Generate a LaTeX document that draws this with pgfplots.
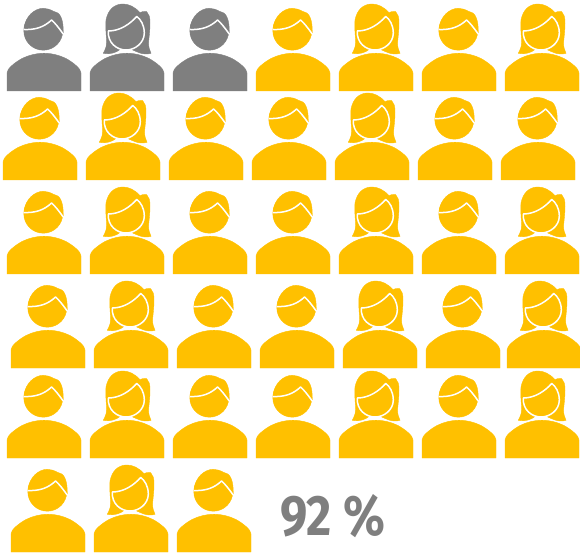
\documentclass[border=0pt]{standalone}
\usepackage{pgfplots}
\pgfplotsset{compat=1.18}
\usepackage{fontspec}
\setmainfont{Fira Sans}
\definecolor{amber}{HTML}{FFC000}
\definecolor{slate}{HTML}{7F7F7F}
\newcommand\bodypath{(-37,0) -- (-37,18) .. controls (-37,22) and (-30,28) .. (-22,32.5) .. controls (-15,36) and (-7,37.8) .. (0,37.8) .. controls (7,37.8) and (15,36) .. (22,32.5) .. controls (30,28) and (37,22) .. (37,18) -- (37,0) -- cycle}
\newcommand\declmale[2]{%
\pgfdeclareplotmark{#1}{%
 \begin{scope}[x=1pt,y=1pt]
 \fill[#2] \bodypath;
 \fill[#2] (-0.7,60.3) circle[radius=19.5];
 \fill[#2] (-20,62) .. controls (-19,75) and (-9,82.7) .. (-0.7,82.7) .. controls (3,82.7) and (6,81.5) .. (10,79.5) .. controls (16,79) and (19.5,72) .. (19.3,58) -- cycle;
 \draw[white,line width=1.5pt,line join=round] (-20.5,61.5) .. controls (-8,61) and (0,64) .. (7.6,71) .. controls (11,68) and (15,63) .. (19.2,57);
 \end{scope}}}
\newcommand\declfemale[2]{%
\pgfdeclareplotmark{#1}{%
 \begin{scope}[x=1pt,y=1pt]
 \fill[#2] \bodypath;
 \fill[#2] (-23.7,37.7) .. controls (-21,43) and (-20,46) .. (-20.3,50) .. controls (-21,58) and (-21.5,64) .. (-21,71) .. controls (-19,81) and (-13,87) .. (-4,87) .. controls (2,87) and (8,84) .. (13,78.3) .. controls (15,79.5) and (17,80) .. (19.7,79.3) .. controls (22,77) and (23,74) .. (23,68) .. controls (23,60) and (22,54) .. (21.5,48) .. controls (21.5,44) and (22.5,41) .. (24,37.7) .. controls (20,36.5) and (16,37) .. (13,38) .. controls (10,39) and (7,40.5) .. (4.7,41.5) -- (-7,41.5) .. controls (-9,40) and (-11.5,38.5) .. (-14,38) .. controls (-17,37) and (-20,37) .. (-23.7,37.7) -- cycle;
 \draw[white,line width=1.5pt,line join=round] (-18.7,60) .. controls (-7,60) and (3,67) .. (9.7,74.5) .. controls (13.5,72) and (17.3,66) .. (17.3,58) .. controls (17.3,48) and (8,41) .. (-1,41) .. controls (-10,41) and (-19.5,48) .. (-18.7,60) -- cycle;
 \end{scope}}}
\declmale{mgray}{slate}
\declmale{mamber}{amber}
\declfemale{fgray}{slate}
\declfemale{famber}{amber}
\begin{document}
\begin{tikzpicture}
\path[use as bounding box] (0,0) rectangle (580pt,552pt);
\begin{axis}[
  at={(0,0)},anchor=south west,
  width=580pt,height=552pt,scale only axis,
  xmin=0,xmax=580,ymin=0,ymax=552,
  hide axis,clip=true,
  axis line style={draw=none},
  only marks]
% y = 552 - pixel row of the icon's foot
\addplot[mark=mgray] coordinates {(44,461)(210,461)};
\addplot[mark=fgray] coordinates {(127,461)};
\addplot[mark=mamber] coordinates {
 (293,461)(459,461)
 (40,372)(206,372)(289,372)(455,372)(538,372)
 (44,278)(210,278)(293,278)(459,278)
 (48,184)(214,184)(297,184)(463,184)
 (44,94)(210,94)(293,94)(459,94)
 (48,0)(214,0)};
\addplot[mark=famber] coordinates {
 (376,461)(542,461)
 (123,372)(372,372)
 (127,278)(376,278)(542,278)
 (131,184)(380,184)(544,184)
 (127,94)(376,94)(542,94)
 (131,0)};
\node[text=slate,font=\bfseries\fontsize{57}{57}\selectfont,anchor=center,xscale=0.855] at (axis cs:333,35.5) {92 \%};
\end{axis}
\end{tikzpicture}
\end{document}
